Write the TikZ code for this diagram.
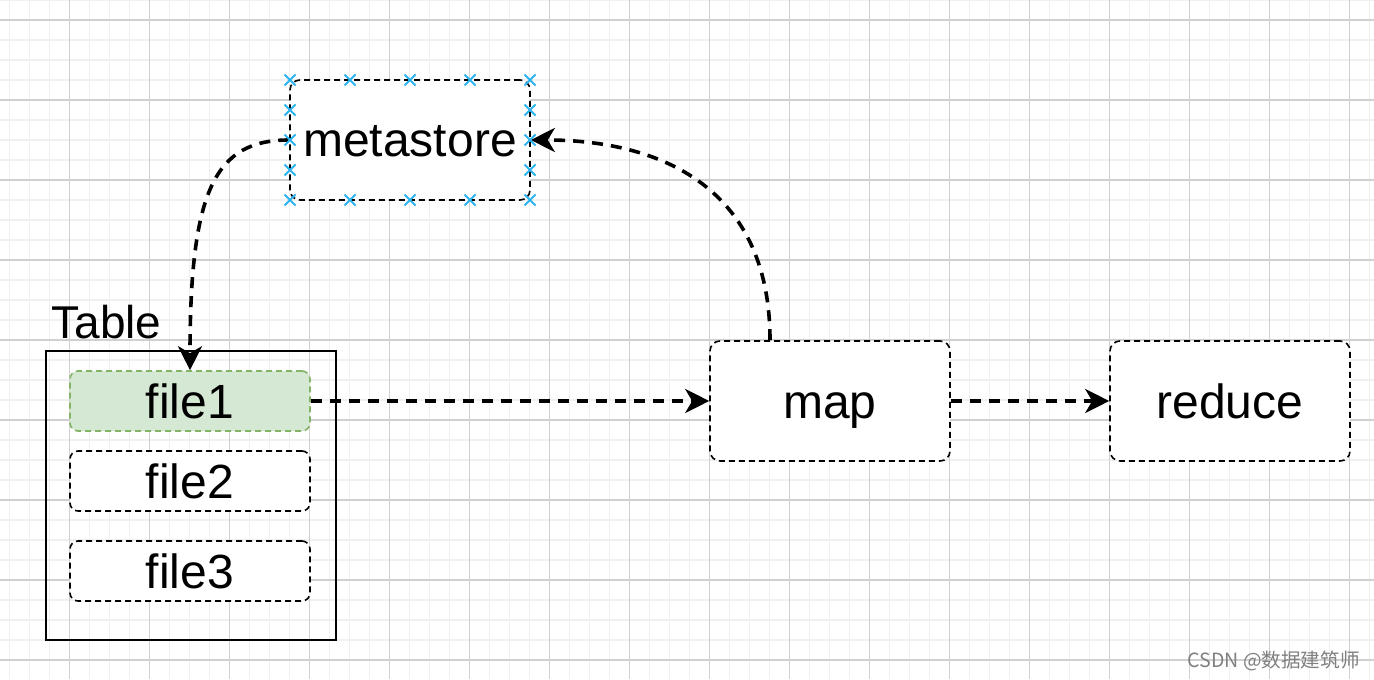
\documentclass[tikz,border=0pt]{standalone}
\usepackage{fontspec}
\setmainfont{Liberation Sans}
\newfontfamily\cjkfont{Noto Sans CJK SC}
\usetikzlibrary{arrows.meta}
\definecolor{gridminor}{HTML}{F0F0F0}
\definecolor{gridmajor}{HTML}{D0D0D0}
\definecolor{filegreen}{HTML}{D5E8D4}
\definecolor{greenline}{HTML}{82B366}
\definecolor{selblue}{RGB}{45,180,240}
\definecolor{wmgray}{HTML}{808080}
\begin{document}
\begin{tikzpicture}[x=0.5pt,y=-0.5pt,
  box/.style={draw=black, line width=0.8pt, dash pattern=on 3pt off 2pt,
    rounded corners=5pt, fill=white, minimum width=120pt, minimum height=60pt,
    inner sep=0pt, text height=20pt, text depth=3pt, font=\fontsize{24}{28}\selectfont},
  filebox/.style={box, minimum height=30pt, rounded corners=4pt},
  conn/.style={line width=1.8pt, dash pattern=on 5.5pt off 4pt,
    -{Stealth[length=12pt,width=12pt,inset=3.5pt]}},
  sel/.style={selblue, line width=1pt},
  gminor/.style={gridminor, line width=0.75pt},
  gmajor/.style={gridmajor, line width=0.6pt}]
\useasboundingbox (0,0) rectangle (1374,679);
\fill[white] (0,0) rectangle (1374,679);
% grid
\foreach \x in {9.5,29.5,...,1374} \draw[gminor] (\x,0) -- (\x,679);
\foreach \y in {0,20,...,679} \draw[gminor] (0,\y) -- (1374,\y);
\foreach \x in {69.5,149.5,...,1374} \draw[gmajor] (\x,0) -- (\x,679);
\foreach \y in {20,100,...,679} \draw[gmajor] (0,\y) -- (1374,\y);
% table
\node[draw=black, line width=0.75pt, minimum width=145pt, minimum height=144.5pt, inner sep=0pt] (tablebox) at (191,495.5) {};
\node[anchor=base west, inner sep=0pt, font=\fontsize{23}{28}\selectfont] (tablelabel) at (51,338) {Table};
\node[filebox, fill=filegreen, draw=greenline] (file1) at (190,401) {file1};
\node[filebox] (file2) at (190,481) {file2};
\node[filebox] (file3) at (190,571) {file3};
% other boxes
\node[box] (metastore) at (410,140) {metastore};
\node[box] (map) at (830,401) {map};
\node[box] (reduce) at (1230,401) {reduce};
% connectors
\draw[conn] (file1.east) -- (map.west);
\draw[conn] (map.east) -- (reduce.west);
\draw[conn] ([xshift=-30pt]map.north) .. controls (770,180) and (650,140) .. (metastore.east);
\draw[conn] (metastore.west) .. controls (215,140) and (190,190) .. (file1.north);
% selection markers
\foreach \x in {290,350,410,470,530}
  \foreach \y in {80,200}
    \draw[sel] (\x-5.5,\y-5.5) -- (\x+5.5,\y+5.5) (\x-5.5,\y+5.5) -- (\x+5.5,\y-5.5);
\foreach \x in {290,530}
  \foreach \y in {110,140,170}
    \draw[sel] (\x-5.5,\y-5.5) -- (\x+5.5,\y+5.5) (\x-5.5,\y+5.5) -- (\x+5.5,\y-5.5);
% watermark
\node[anchor=base east, inner sep=0pt, text=wmgray, font=\cjkfont\fontsize{9.8}{11}\selectfont] (wm) at (1360,667) {CSDN @数据建筑师};
\end{tikzpicture}
\end{document}
